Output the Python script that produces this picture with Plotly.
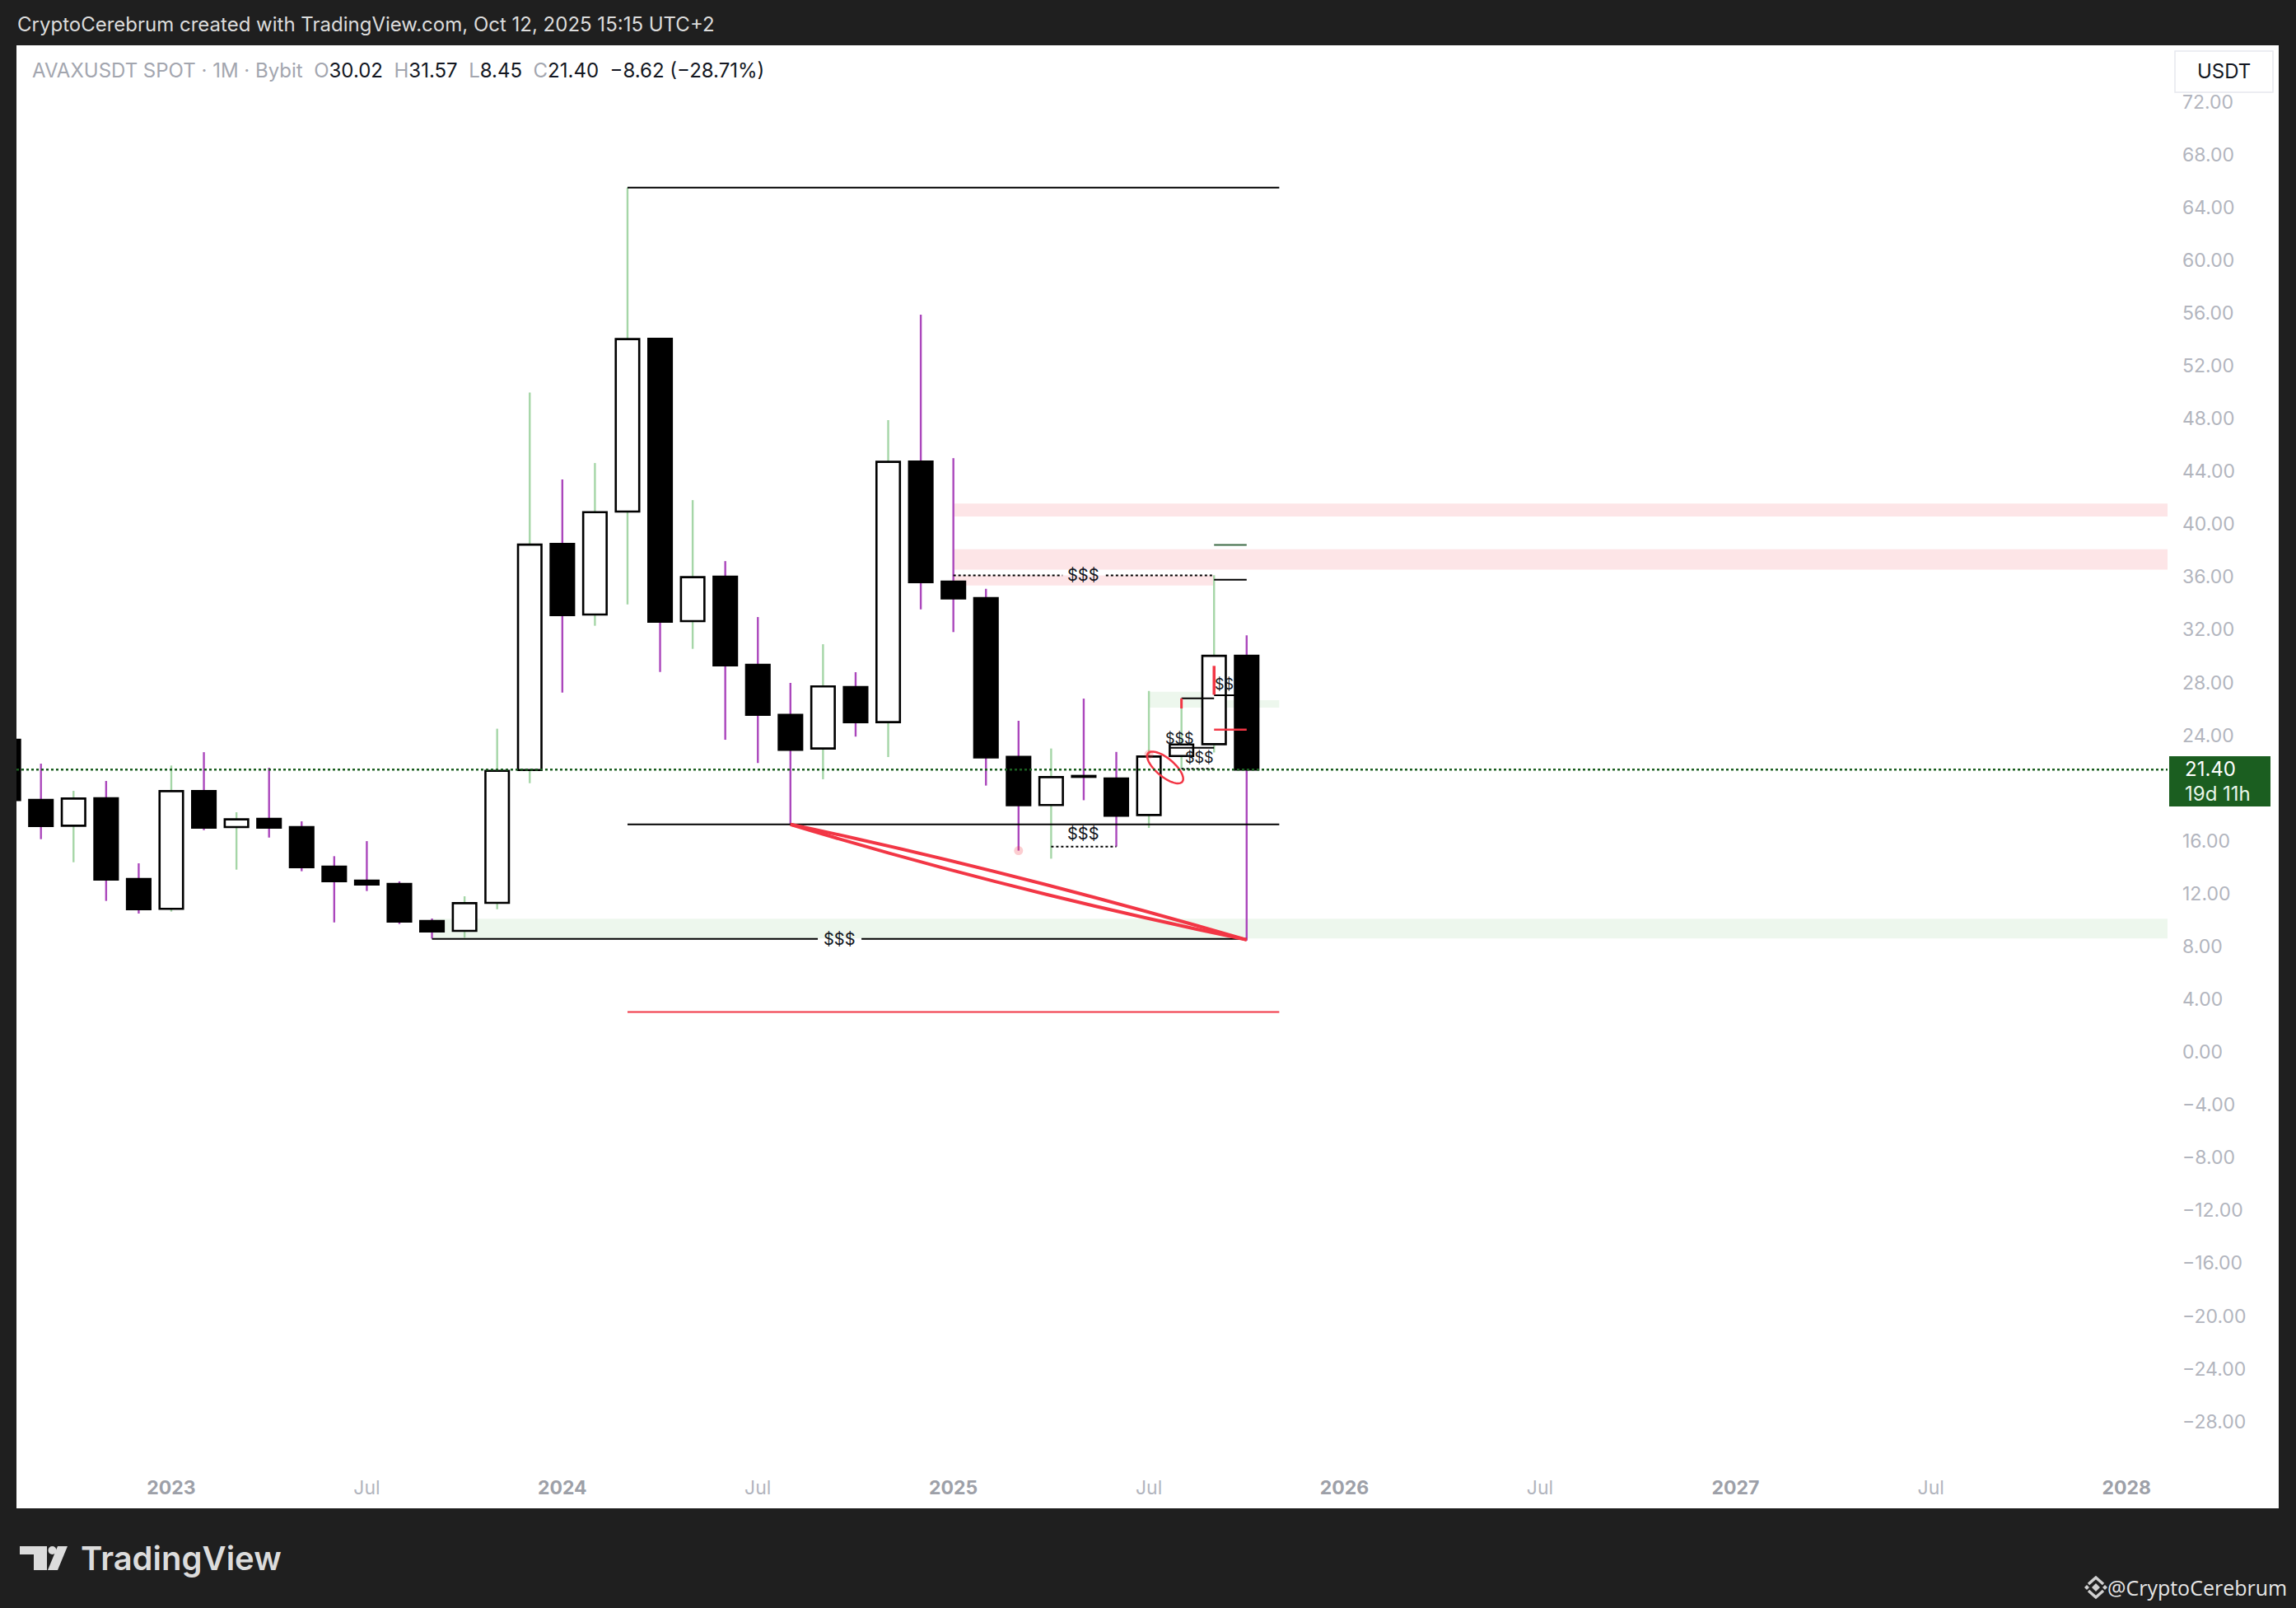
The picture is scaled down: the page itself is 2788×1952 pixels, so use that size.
import math
import plotly.graph_objects as go

# ---------------- data ----------------
months = ["2022-08", "2022-09", "2022-10", "2022-11", "2022-12",
          "2023-01", "2023-02", "2023-03", "2023-04", "2023-05", "2023-06",
          "2023-07", "2023-08", "2023-09", "2023-10", "2023-11", "2023-12",
          "2024-01", "2024-02", "2024-03", "2024-04", "2024-05", "2024-06",
          "2024-07", "2024-08", "2024-09", "2024-10", "2024-11", "2024-12",
          "2025-01", "2025-02", "2025-03", "2025-04", "2025-05", "2025-06",
          "2025-07", "2025-08", "2025-09", "2025-10"]
opens = [23.66, 19.10, 17.15, 19.23, 13.11,
         10.85, 19.77, 17.05, 17.67, 17.05, 14.05,
         12.99, 12.74, 9.93, 9.18, 11.30, 21.37,
         38.50, 33.15, 40.95, 54.04, 32.65, 36.02,
         29.34, 25.55, 23.00, 27.66, 25.00, 44.74,
         35.65, 34.40, 22.36, 18.72, 20.92, 20.73,
         17.96, 22.43, 23.33, 30.02]
highs = [30.30, 21.85, 19.79, 20.54, 14.30,
         21.71, 22.72, 18.17, 21.54, 17.48, 14.84,
         15.98, 12.93, 10.12, 11.80, 24.50, 49.97,
         43.39, 44.63, 65.50, 54.10, 41.82, 37.20,
         32.96, 27.97, 30.90, 28.78, 47.88, 55.87,
         45.00, 35.10, 25.10, 23.00, 26.78, 22.74,
         27.36, 26.80, 36.13, 31.57]
lows = [18.60, 16.13, 14.38, 11.45, 10.49,
        10.64, 16.81, 13.82, 16.25, 13.70, 9.82,
        12.20, 9.70, 8.60, 8.66, 10.82, 20.37,
        27.24, 32.30, 33.92, 28.80, 30.55, 23.66,
        21.90, 17.23, 20.67, 23.90, 22.35, 33.54,
        31.82, 20.19, 15.26, 14.65, 19.08, 15.57,
        16.98, 21.46, 22.70, 8.45]
closes = [19.10, 17.13, 19.21, 13.07, 10.82,
          19.77, 17.00, 17.63, 17.00, 14.00, 12.94,
          12.70, 9.88, 9.14, 11.28, 21.31, 38.45,
          33.10, 40.91, 54.02, 32.60, 35.98, 29.30,
          25.55, 22.90, 27.70, 25.00, 44.72, 35.60,
          34.37, 22.33, 18.70, 20.83, 20.85, 17.90,
          22.39, 23.30, 30.02, 21.40]

y_ticks = [72, 68, 64, 60, 56, 52, 48, 44, 40, 36, 32, 28, 24, 16, 12, 8, 4, 0,
           -4, -8, -12, -16, -20, -24, -28]
x_tick_months = ["2023-01", "2023-07", "2024-01", "2024-07", "2025-01", "2025-07",
                 "2026-01", "2026-07", "2027-01", "2027-07", "2028-01"]
x_tick_labels = ["2023", "Jul", "2024", "Jul", "2025", "Jul", "2026", "Jul", "2027", "Jul", "2028"]

last_price = 21.40
countdown = "19d 11h"

# drawings (price levels)
range_levels = [65.50, 17.25]          # black range lines (Mar 2024 -> Nov 2025)
ext_level = 3.03                        # red extension line
range_start, range_end = "2024-03", "2025-11"
supply_zones = [(40.58, 41.56), (36.56, 38.09)]   # pink, from Jan 2025 to the right
supply_small = (35.35, 36.12)           # pink, Jan 2025 -> Sep 2025
demand_zone = (8.60, 10.10)             # green, from Sep 2023 to the right
small_demand = [(26.10, 27.30, "2025-07", "2025-09"), (26.10, 26.66, "2025-09", "2025-11")]
liq_top = (36.12, "2025-01", "2025-09")
liq_mid = (15.57, "2025-04", "2025-06")
liq_low = (8.57, "2023-09", "2025-10")
sweep_start = ("2024-08", 17.25)
sweep_end = ("2025-10", 8.50)


def midx(s):
    return (int(s[:4]) - 2023) * 12 + int(s[5:7]) - 1


m_idx = [midx(s) for s in months]

# ---------------- geometry ----------------
W, H = 2788, 1952
L, R, T, B = 20, 156, 55, 177
PW, PH = W - L - R, H - T - B
XMIN, XMAX = -4.751, 61.259
YMIN, YMAX = -31.08, 76.283
PXM = PW / (XMAX - XMIN)
PXV = PH / (YMAX - YMIN)


def px_x(p):
    return (p - L) / PW


def px_y(p):
    return 1 - (p - T) / PH


BG = "#1f1f1f"
GREEN_WICK = "#a5d6a7"
PURPLE_WICK = "#ab47bc"
RED = "#f23645"
TXT_GRAY = "#b2b5be"

fig = go.Figure()

# wicks (thin bars so that the bodies drawn after them cover them)
WICK_W = 2.4 / PXM
for bullish, col in [(True, GREEN_WICK), (False, PURPLE_WICK)]:
    xs, hs, bs = [], [], []
    for m, o, h, l, c in zip(m_idx, opens, highs, lows, closes):
        if (c >= o) == bullish:
            xs.append(m)
            hs.append(h - l)
            bs.append(l)
    fig.add_trace(go.Bar(x=xs, y=hs, base=bs, width=WICK_W,
                         marker=dict(color=col, line=dict(width=0)),
                         hoverinfo="skip", showlegend=False))

# bodies
for bullish, col in [(True, "#ffffff"), (False, "#000000")]:
    xs, hs, bs = [], [], []
    for m, o, c in zip(m_idx, opens, closes):
        if (c >= o) == bullish:
            xs.append(m)
            hs.append(abs(c - o))
            bs.append(min(o, c))
    fig.add_trace(go.Bar(x=xs, y=hs, base=bs, width=0.72,
                         marker=dict(color=col, line=dict(color="#000000", width=2.6)),
                         hoverinfo="skip", showlegend=False))

# pink dots
fig.add_trace(go.Scatter(x=[midx("2025-03"), midx("2025-07")], y=[lows[months.index("2025-03")], 22.55],
                         mode="markers", marker=dict(size=11, color="rgba(242,54,69,0.25)"),
                         hoverinfo="skip", showlegend=False))

shapes = []
annotations = []

# white chart panel
shapes.append(dict(type="rect", xref="paper", yref="paper", x0=px_x(20), x1=px_x(2767),
                   y0=px_y(1831), y1=px_y(55), fillcolor="#ffffff", line=dict(width=0), layer="below"))

PINK = "rgba(242,54,69,0.13)"
GREENZ = "rgba(76,175,80,0.10)"
for lo, hi in supply_zones:
    shapes.append(dict(type="rect", x0=midx("2025-01"), x1=XMAX + 5, y0=lo, y1=hi,
                       fillcolor=PINK, line=dict(width=0), layer="below"))
shapes.append(dict(type="rect", x0=midx("2025-01"), x1=midx("2025-09"), y0=supply_small[0], y1=supply_small[1],
                   fillcolor=PINK, line=dict(width=0), layer="below"))
shapes.append(dict(type="rect", x0=midx("2023-09"), x1=XMAX + 5, y0=demand_zone[0], y1=demand_zone[1],
                   fillcolor=GREENZ, line=dict(width=0), layer="below"))
for lo, hi, a, b in small_demand:
    shapes.append(dict(type="rect", x0=midx(a), x1=midx(b), y0=lo, y1=hi,
                       fillcolor=GREENZ, line=dict(width=0), layer="below"))

# range lines
for lv in range_levels:
    shapes.append(dict(type="line", x0=midx(range_start), x1=midx(range_end), y0=lv, y1=lv,
                       line=dict(color="#000000", width=2)))
shapes.append(dict(type="line", x0=midx(range_start), x1=midx(range_end), y0=ext_level, y1=ext_level,
                   line=dict(color=RED, width=2)))


# liquidity lines with $$$ labels
def seg(x0, x1, y, dash, width=2, color="#000000"):
    shapes.append(dict(type="line", x0=x0, x1=x1, y0=y, y1=y, line=dict(color=color, width=width, dash=dash)))


def label(x, y, text="$$$", size=20):
    annotations.append(dict(x=x, y=y, xref="x", yref="y", text=text, showarrow=False,
                            font=dict(size=size, color="#131722"), xanchor="center", yanchor="middle"))


v, a, b = liq_top
seg(midx(a), 27.35, v, "dot")
seg(28.68, midx(b), v, "dot")
label(28.0, v)
v, a, b = liq_mid
seg(midx(a), midx(b), v, "dot")
label(28.0, v + 1.0)
v, a, b = liq_low
seg(midx(a), 19.84, v, "solid")
seg(21.18, midx(b), v, "solid")
label(20.5, v)

# small drawings around Aug-Oct 2025
seg(30.66, 32.0, 23.05, "solid")
label(30.95, 23.75, size=18)
seg(31.0, 32.0, 21.47, "dot")
label(31.55, 22.3, size=18)
seg(31.0, 32.0, 26.80, "solid")
seg(32.0, 33.0, 27.03, "solid")
label(32.3, 27.9, "$$", size=18)
seg(32.0, 33.0, 35.79, "solid")
seg(32.0, 33.0, 38.42, "solid", width=2, color="#3d6b45")
seg(32.0, 33.0, 24.43, "solid", width=2.5, color=RED)
shapes.append(dict(type="line", x0=31.0, x1=31.0, y0=26.03, y1=26.80, line=dict(color=RED, width=3)))
shapes.append(dict(type="line", x0=32.0, x1=32.0, y0=27.07, y1=29.26, line=dict(color=RED, width=3.5)))

# ellipse
cx, cy = 30.5, 21.56
ea, eb, th = 27.0, 11.0, math.radians(40)
pts = []
for k in range(73):
    t = 2 * math.pi * k / 72
    dx = ea * math.cos(t) * math.cos(th) - eb * math.sin(t) * math.sin(th)
    dy = ea * math.cos(t) * math.sin(th) + eb * math.sin(t) * math.cos(th)
    pts.append((cx + dx / PXM, cy - dy / PXV))
path = "M " + " L ".join(f"{x:.4f},{y:.4f}" for x, y in pts) + " Z"
shapes.append(dict(type="path", path=path, line=dict(color=RED, width=2.5)))

# sweep crescent (two curves)
sx, sy = midx(sweep_start[0]), sweep_start[1]
ex, ey = midx(sweep_end[0]), sweep_end[1]
for ctrl in [(25.42, 13.92), (25.37, 12.45)]:
    shapes.append(dict(type="path", path=f"M {sx},{sy} Q {ctrl[0]},{ctrl[1]} {ex},{ey}",
                       line=dict(color=RED, width=4)))

# last price line
shapes.append(dict(type="line", xref="paper", x0=0, x1=1, y0=last_price, y1=last_price,
                   line=dict(color="#1b5e20", width=2.5, dash="dot")))

# price label box on the axis
shapes.append(dict(type="rect", xref="paper", yref="paper", x0=px_x(2634), x1=px_x(2757),
                   y0=px_y(979), y1=px_y(918), fillcolor="#1b5e20", line=dict(width=0)))
annotations.append(dict(xref="paper", yref="paper", x=px_x(2651), y=px_y(934), text=f"{last_price:.2f}",
                        showarrow=False, xanchor="left", yanchor="middle",
                        font=dict(size=24, color="#ffffff")))
annotations.append(dict(xref="paper", yref="paper", x=px_x(2651), y=px_y(963), text=countdown,
                        showarrow=False, xanchor="left", yanchor="middle",
                        font=dict(size=24, color="#e8f5e9")))

# USDT box
shapes.append(dict(type="rect", xref="paper", yref="paper", x0=px_x(2641), x1=px_x(2760),
                   y0=px_y(112), y1=px_y(62), fillcolor="#ffffff", line=dict(color="#e6e8ee", width=1.5)))
annotations.append(dict(xref="paper", yref="paper", x=px_x(2700), y=px_y(87), text="USDT",
                        showarrow=False, xanchor="center", yanchor="middle",
                        font=dict(size=24, color="#131722")))

# header texts
annotations.append(dict(xref="paper", yref="paper", x=px_x(19), y=px_y(30),
                        text="CryptoCerebrum created with TradingView.com, Oct 12, 2025 15:15 UTC+2",
                        showarrow=False, xanchor="left", yanchor="middle",
                        font=dict(size=24, color="#dcdcdc")))
G, K = "#a3a6af", "#131722"
sp = "\u00a0\u00a0"
legend = (f'<span style="color:{G}">AVAXUSDT SPOT · 1M · Bybit</span>{sp}'
          f'<span style="color:{G}">O</span><span style="color:{K}">{opens[-1]:.2f}</span>{sp}'
          f'<span style="color:{G}">H</span><span style="color:{K}">{highs[-1]:.2f}</span>{sp}'
          f'<span style="color:{G}">L</span><span style="color:{K}">{lows[-1]:.2f}</span>{sp}'
          f'<span style="color:{G}">C</span><span style="color:{K}">{closes[-1]:.2f}</span>{sp}'
          f'<span style="color:{K}">−8.62 (−28.71%)</span>')
annotations.append(dict(xref="paper", yref="paper", x=px_x(37), y=px_y(85), text=legend,
                        showarrow=False, xanchor="left", yanchor="middle",
                        font=dict(size=24, color=K)))

# TradingView logo
LOGO = "#dcdcdc"


def ppath(points):
    return "M " + " L ".join(f"{px_x(x):.5f},{px_y(y):.5f}" for x, y in points) + " Z"


shapes.append(dict(type="path", xref="paper", yref="paper",
                   path=ppath([(24, 1877), (57, 1877), (57, 1906), (41, 1906), (41, 1887), (24, 1887)]),
                   fillcolor=LOGO, line=dict(width=0)))
shapes.append(dict(type="circle", xref="paper", yref="paper", x0=px_x(58.5), x1=px_x(68.5),
                   y0=px_y(1887), y1=px_y(1877), fillcolor=LOGO, line=dict(width=0)))
shapes.append(dict(type="path", xref="paper", yref="paper",
                   path=ppath([(70, 1877), (82, 1877), (70, 1906), (58, 1906)]),
                   fillcolor=LOGO, line=dict(width=0)))
annotations.append(dict(xref="paper", yref="paper", x=px_x(96), y=px_y(1891), text="TradingView",
                        showarrow=False, xanchor="left", yanchor="middle",
                        font=dict(size=40, color=LOGO, weight=600)))

# bottom-right signature with small diamond icon
IC = "#d0d0d0"
icx, icy = 2545, 1927
shapes.append(dict(type="path", xref="paper", yref="paper",
                   path=ppath([(icx, icy - 5), (icx + 5, icy), (icx, icy + 5), (icx - 5, icy)]),
                   fillcolor=IC, line=dict(width=0)))
for dxx in (-11, 11):
    shapes.append(dict(type="path", xref="paper", yref="paper",
                       path=ppath([(icx + dxx, icy - 3), (icx + dxx + 3, icy), (icx + dxx, icy + 3),
                                   (icx + dxx - 3, icy)]),
                       fillcolor=IC, line=dict(width=0)))
for sgn in (-1, 1):
    pth = (f"M {px_x(icx-9):.5f},{px_y(icy+sgn*4):.5f} L {px_x(icx):.5f},{px_y(icy+sgn*12):.5f} "
           f"L {px_x(icx+9):.5f},{px_y(icy+sgn*4):.5f}")
    shapes.append(dict(type="path", xref="paper", yref="paper", path=pth, line=dict(color=IC, width=3.5)))
annotations.append(dict(xref="paper", yref="paper", x=px_x(2779), y=px_y(1927), text="@CryptoCerebrum",
                        showarrow=False, xanchor="right", yanchor="middle",
                        font=dict(size=25, color="#e6e6e6", family="Open Sans")))

# x tick labels
x_ticktext = []
for t in x_tick_labels:
    if t == "Jul":
        x_ticktext.append(f'<span style="color:#b2b5be">{t}</span>')
    else:
        x_ticktext.append(f'<span style="color:#9da0a8;font-weight:bold">{t}</span>')

fig.update_layout(
    width=W, height=H,
    margin=dict(l=L, r=R, t=T, b=B),
    paper_bgcolor=BG, plot_bgcolor="#ffffff",
    font=dict(family="Inter, Roboto, sans-serif", color=TXT_GRAY),
    barmode="overlay",
    showlegend=False,
    shapes=shapes, annotations=annotations,
    xaxis=dict(range=[XMIN, XMAX], tickvals=[midx(s) for s in x_tick_months], ticktext=x_ticktext,
               showgrid=False, zeroline=False, showline=False, ticks="",
               tickfont=dict(size=23, color=TXT_GRAY), ticklabelstandoff=15, fixedrange=True),
    yaxis=dict(range=[YMIN, YMAX], side="right", tickvals=y_ticks,
               ticktext=[(f"{v:.2f}" if v >= 0 else "−" + f"{-v:.2f}") for v in y_ticks],
               showgrid=False, zeroline=False, showline=False, ticks="",
               tickfont=dict(size=23, color=TXT_GRAY), ticklabelstandoff=17, fixedrange=True),
)

fig.write_html("out.html", config={"displayModeBar": False},
               post_script="document.body.style.margin='0';document.body.style.background='#1f1f1f';")
